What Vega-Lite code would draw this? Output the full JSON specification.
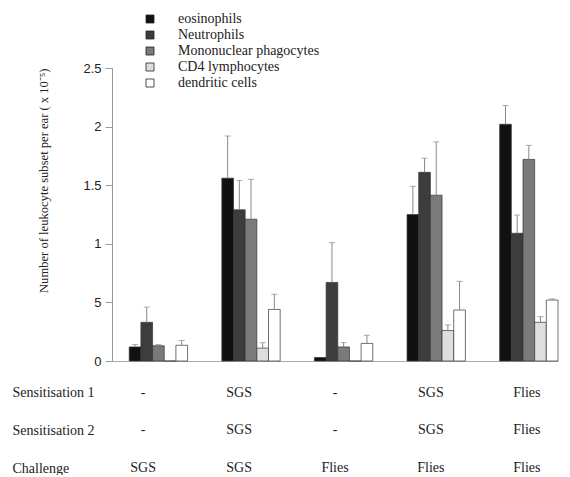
{
  "$schema": "https://vega.github.io/schema/vega-lite/v6.json",
  "padding": {"left": 12, "top": 12, "right": 0, "bottom": 0},
  "background": "white",
  "config": {"view": {"stroke": null}, "font": "Liberation Serif"},
  "spacing": 0,
  "resolve": {"scale": {"x": "independent"}},
  "datasets": {
    "cells": [
      {"group": "1", "cell": "eosinophils", "value": 0.12, "err": 0.14},
      {"group": "1", "cell": "Neutrophils", "value": 0.33, "err": 0.46},
      {"group": "1", "cell": "Mononuclear phagocytes", "value": 0.13, "err": 0.14},
      {"group": "1", "cell": "CD4 lymphocytes", "value": 0.0, "err": null},
      {"group": "1", "cell": "dendritic cells", "value": 0.134, "err": 0.175},
      {"group": "2", "cell": "eosinophils", "value": 1.56, "err": 1.92},
      {"group": "2", "cell": "Neutrophils", "value": 1.29, "err": 1.54},
      {"group": "2", "cell": "Mononuclear phagocytes", "value": 1.21, "err": 1.55},
      {"group": "2", "cell": "CD4 lymphocytes", "value": 0.11, "err": 0.156},
      {"group": "2", "cell": "dendritic cells", "value": 0.44, "err": 0.57},
      {"group": "3", "cell": "eosinophils", "value": 0.03, "err": null},
      {"group": "3", "cell": "Neutrophils", "value": 0.67, "err": 1.01},
      {"group": "3", "cell": "Mononuclear phagocytes", "value": 0.12, "err": 0.157},
      {"group": "3", "cell": "CD4 lymphocytes", "value": 0.0, "err": null},
      {"group": "3", "cell": "dendritic cells", "value": 0.15, "err": 0.22},
      {"group": "4", "cell": "eosinophils", "value": 1.25, "err": 1.49},
      {"group": "4", "cell": "Neutrophils", "value": 1.61, "err": 1.73},
      {"group": "4", "cell": "Mononuclear phagocytes", "value": 1.415, "err": 1.87},
      {"group": "4", "cell": "CD4 lymphocytes", "value": 0.26, "err": 0.307},
      {"group": "4", "cell": "dendritic cells", "value": 0.435, "err": 0.68},
      {"group": "5", "cell": "eosinophils", "value": 2.02, "err": 2.18},
      {"group": "5", "cell": "Neutrophils", "value": 1.09, "err": 1.245},
      {"group": "5", "cell": "Mononuclear phagocytes", "value": 1.72, "err": 1.84},
      {"group": "5", "cell": "CD4 lymphocytes", "value": 0.33, "err": 0.378},
      {"group": "5", "cell": "dendritic cells", "value": 0.52, "err": 0.53}
    ],
    "table": [
      {"group": "1", "row": "Sensitisation 1", "text": "-"},
      {"group": "2", "row": "Sensitisation 1", "text": "SGS"},
      {"group": "3", "row": "Sensitisation 1", "text": "-"},
      {"group": "4", "row": "Sensitisation 1", "text": "SGS"},
      {"group": "5", "row": "Sensitisation 1", "text": "Flies"},
      {"group": "1", "row": "Sensitisation 2", "text": "-"},
      {"group": "2", "row": "Sensitisation 2", "text": "SGS"},
      {"group": "3", "row": "Sensitisation 2", "text": "-"},
      {"group": "4", "row": "Sensitisation 2", "text": "SGS"},
      {"group": "5", "row": "Sensitisation 2", "text": "Flies"},
      {"group": "1", "row": "Challenge", "text": "SGS"},
      {"group": "2", "row": "Challenge", "text": "SGS"},
      {"group": "3", "row": "Challenge", "text": "Flies"},
      {"group": "4", "row": "Challenge", "text": "Flies"},
      {"group": "5", "row": "Challenge", "text": "Flies"}
    ]
  },
  "vconcat": [
    {
      "width": 446,
      "height": 293,
      "data": {"name": "cells"},
      "layer": [
        {
          "mark": {"type": "bar", "stroke": "#333", "strokeWidth": 0.7},
          "encoding": {
            "x": {"field": "group", "type": "nominal", "scale": {"type": "band", "paddingInner": 0.37, "paddingOuter": 0.093, "align": 1}, "axis": {"labels": false, "ticks": false, "title": null, "domainColor": "#aaa"}},
            "xOffset": {"field": "cell", "type": "nominal", "scale": {"domain": ["eosinophils", "Neutrophils", "Mononuclear phagocytes", "CD4 lymphocytes", "dendritic cells"], "paddingInner": 0, "paddingOuter": 0}},
            "y": {"field": "value", "type": "quantitative", "scale": {"domain": [0, 2.5], "nice": false},
              "axis": {"values": [0, 0.5, 1, 1.5, 2, 2.5], "format": "~g", "labelExpr": "datum.value == 0.5 ? '5' : datum.label", "grid": false, "domainColor": "#999", "tickColor": "#999", "tickSize": 7, "labelFont": "Liberation Sans", "labelFontSize": 13, "labelColor": "#222", "labelPadding": 4, "title": "Number of leukocyte subset per ear ( x 10⁻⁵)", "titleFont": "Liberation Serif", "titleFontSize": 12.6, "titleFontWeight": "normal", "titleColor": "#222", "titleAnchor": "end", "titlePadding": 32}},
            "fill": {"field": "cell", "type": "nominal", "scale": {"domain": ["eosinophils", "Neutrophils", "Mononuclear phagocytes", "CD4 lymphocytes", "dendritic cells"], "range": ["#111111", "#3d3d3d", "#7a7a7a", "#dedede", "#ffffff"]},
              "legend": {"orient": "none", "legendX": 31, "legendY": -56, "title": null, "symbolType": "square", "symbolSize": 64, "symbolStrokeColor": "#222", "symbolStrokeWidth": 0.8, "labelFont": "Liberation Serif", "labelFontSize": 14, "labelColor": "#222", "labelOffset": 21, "rowPadding": 2, "padding": 0}}
          }
        },
        {
          "transform": [{"filter": "datum.err != null"}],
          "mark": {"type": "rule", "color": "#888", "strokeWidth": 1},
          "encoding": {
            "x": {"field": "group", "type": "nominal"},
            "xOffset": {"field": "cell", "type": "nominal"},
            "y": {"field": "value", "type": "quantitative"},
            "y2": {"field": "err"}
          }
        },
        {
          "transform": [{"filter": "datum.err != null"}],
          "mark": {"type": "tick", "color": "#888", "size": 6, "thickness": 1, "orient": "horizontal"},
          "encoding": {
            "x": {"field": "group", "type": "nominal"},
            "xOffset": {"field": "cell", "type": "nominal"},
            "y": {"field": "err", "type": "quantitative"}
          }
        }
      ]
    },
    {
      "width": 446,
      "height": 100,
      "data": {"name": "table"},
      "mark": {"type": "text", "font": "Liberation Serif", "fontSize": 14, "color": "#222"},
      "encoding": {
        "x": {"field": "group", "type": "nominal", "scale": {"type": "band", "paddingInner": 0.35, "paddingOuter": 0}, "axis": null},
        "y": {"field": "row", "type": "nominal", "scale": {"type": "point", "domain": ["Sensitisation 1", "Sensitisation 2", "Challenge"], "padding": 0.333, "align": 1},
          "axis": {"title": null, "domain": false, "ticks": false, "labelAlign": "left", "labelPadding": 100, "labelFont": "Liberation Serif", "labelFontSize": 14, "labelColor": "#222"}},
        "text": {"field": "text"}
      }
    }
  ]
}
